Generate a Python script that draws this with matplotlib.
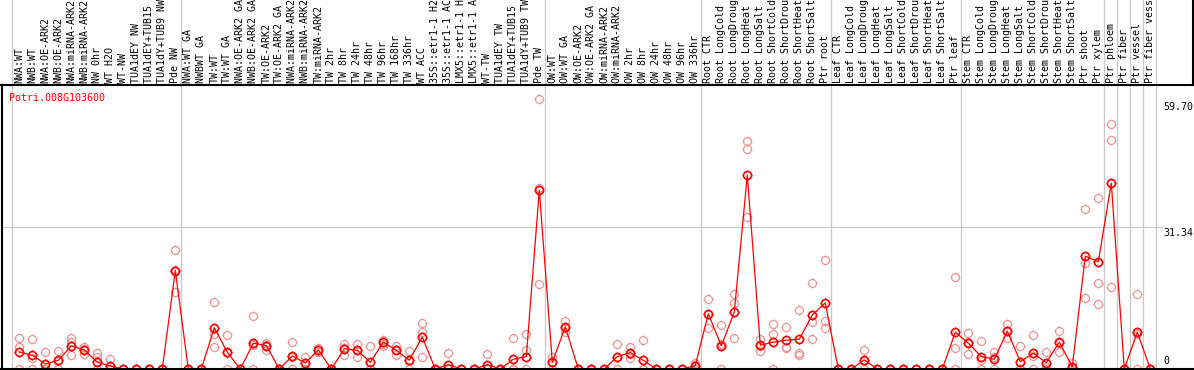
import numpy as np
import matplotlib
matplotlib.use("Agg")
import matplotlib.pyplot as plt
import matplotlib.transforms as mtransforms
from matplotlib.lines import Line2D
from matplotlib.path import Path

# ==========================================
# data
# ==========================================
gene_id = "Potri.008G103600"

sample_labels = [
    "NWA:WT", "NWB:WT", "NWA:OE-ARK2", "NWB:OE-ARK2", "NWA:miRNA-ARK2", "NWB:miRNA-ARK2",
    "NW 0hr", "WT H2O", "WT-NW", "TUA1dEY NW", "TUA1dEY+TUB15 NW", "TUA1dY+TUB9 NW", "Pde NW",
    "NWA:WT GA", "NWBWT GA", "TW:WT", "TW:WT GA", "NWA:OE-ARK2 GA", "NWB:OE-ARK2 GA",
    "TW:OE-ARK2", "TW:OE-ARK2 GA", "NWA:miRNA-ARK2 GA", "NWB:miRNA-ARK2 GA", "TW:miRNA-ARK2",
    "TW 2hr", "TW 8hr", "TW 24hr", "TW 48hr", "TW 96hr", "TW 168hr", "TW 336hr", "WT ACC",
    "35S::etr1-1 H2O", "35S::etr1-1 ACC", "LMX5::etr1-1 H2O", "LMX5::etr1-1 ACC", "WT-TW",
    "TUA1dEY TW", "TUA1dEY+TUB15 TW", "TUA1dY+TUB9 TW", "Pde TW",
    "OW:WT", "OW:WT GA", "OW:OE-ARK2", "OW:OE-ARK2 GA", "OW:miRNA-ARK2", "OW:miRNA-ARK2 GA",
    "OW 2hr", "OW 8hr", "OW 24hr", "OW 48hr", "OW 96hr", "OW 336hr",
    "Root CTR", "Root LongCold", "Root LongDrought", "Root LongHeat", "Root LongSalt",
    "Root ShortCold", "Root ShortDrought", "Root ShortHeat", "Root ShortSalt", "Ptr root",
    "Leaf CTR", "Leaf LongCold", "Leaf LongDrought", "Leaf LongHeat", "Leaf LongSalt",
    "Leaf ShortCold", "Leaf ShortDrought", "Leaf ShortHeat", "Leaf ShortSalt", "Ptr leaf",
    "Stem CTR", "Stem LongCold", "Stem LongDrought", "Stem LongHeat", "Stem LongSalt",
    "Stem ShortCold", "Stem ShortDrought", "Stem ShortHeat", "Stem ShortSalt", "Ptr shoot",
    "Ptr xylem", "Ptr phloem", "Ptr fiber", "Ptr vessel", "Ptr fiber vessel",
]

mean_values = [
    3.70, 3.03, 1.11, 1.92, 5.10, 4.21, 1.48, 0.67, 0, 0, 0, 0, 21.73,
    0, 0, 9.09, 3.70, 0, 5.69, 5.17, 0, 2.88, 1.33, 4.21, 0, 4.43, 4.14, 1.48, 5.92,
    4.14, 1.92, 7.03, 0, 0.96, 0, 0, 0.96, 0, 2.15, 2.73, 39.48,
    1.48, 9.31, 0, 0, 0, 2.73, 3.62, 1.92, 0, 0, 0, 0.74,
    12.20, 5.10, 12.57, 42.80, 5.25, 5.92, 6.36, 6.58, 11.90, 14.57,
    0, 0, 2.00, 0, 0, 0, 0, 0, 0, 8.14,
    5.69, 2.73, 2.15, 8.36, 1.62, 3.47, 1.40, 5.92, 0.52, 24.90, 23.66,
    41.03, 0, 8.14, 0,
]

rep1 = [
    6.80, 6.58, 3.70, 3.92, 6.80, 4.95, 3.47, 2.15, 0, 0, 0, 0, 26.30,
    0, 0, 14.80, 7.54, 0, 11.69, 5.84, 0, 5.92, 2.73, 4.58, 0, 5.54, 5.54, 5.10, 6.50,
    5.17, 4.06, 10.14, 0, 3.47, 0, 0, 3.33, 0, 6.88, 7.69, 59.70,
    2.73, 10.65, 0, 0, 0, 5.47, 4.95, 6.43, 0, 0, 0, 1.40,
    15.46, 9.69, 16.57, 50.30, 6.58, 9.91, 9.25, 13.08, 19.00, 24.10,
    0, 0, 4.21, 0, 0, 0, 0, 0, 0, 20.30,
    7.92, 6.21, 3.77, 9.98, 5.17, 7.47, 3.70, 8.36, 1.40, 35.26, 37.70,
    54.10, 0, 16.63, 0,
]

rep2 = [
    4.88, 2.50, 0, 1.85, 6.06, 4.40, 2.73, 0, 0, 0, 0, 0, 21.90,
    0, 0, 7.76, 3.60, 0, 5.40, 5.40, 0, 2.70, 1.30, 4.20, 0, 4.70, 4.20, 0, 5.54,
    4.20, 1.70, 8.14, 0, 0, 0, 0, 0, 0, 0, 4.20, 39.90,
    1.50, 9.10, 0, 0, 0, 2.70, 3.40, 0, 0, 0, 0, 0.80,
    12.10, 5.60, 14.57, 48.60, 5.00, 7.69, 4.95, 3.62, 10.36, 10.50,
    0, 0, 1.80, 0, 0, 0, 0, 0, 0, 4.58,
    5.90, 2.00, 2.70, 8.30, 0, 2.90, 0.50, 5.70, 0, 23.44, 19.07,
    50.57, 0, 7.80, 0,
]

rep3 = [
    0, 0, 0, 0, 3.10, 3.25, 0, 0, 0, 0, 0, 0, 17.00,
    0, 0, 4.81, 0, 0, 0, 4.21, 0, 0, 0, 3.84, 0, 3.03, 2.73, 0, 5.17,
    3.03, 0, 2.59, 0, 0, 0, 0, 0, 0, 0, 0, 18.85,
    0, 8.14, 0, 0, 0, 0, 2.51, 0, 0, 0, 0, 0,
    9.03, 0, 6.80, 33.50, 4.06, 0, 4.58, 3.03, 6.58, 9.03,
    0, 0, 0, 0, 0, 0, 0, 0, 0, 0,
    3.25, 0, 0, 6.80, 0, 0, 0, 3.70, 0, 15.68, 14.35,
    18.10, 0, 0, 0,
]

# last sample of every group (grey separators are drawn just after them)
group_ends = [-1, 12, 40, 52, 62, 72, 83, 84, 85, 86, 87]

y_max = 62.68
y_tick_values = [59.70, 31.34, 0]

# ==========================================
# layout in pixels
# ==========================================
W, H = 1194, 370
X0_PX, STEP_PX = 19.3, 13.0
HEADER_PX = 85
xlim = (-X0_PX / STEP_PX, (W - X0_PX) / STEP_PX)

LINE_RED = '#FF0000'
REP_RED = '#EC9494'
GRID = '#C8C8C8'
FONT = 'DejaVu Sans Mono'
FS = 7.2

# round ring with four short ticks sticking out
TICK = 1.22
tick_verts = [(0, 1), (0, TICK), (0, -1), (0, -TICK), (1, 0), (TICK, 0), (-1, 0), (-TICK, 0)]
tick_codes = [Path.MOVETO, Path.LINETO] * 4
ring_marker = Path.make_compound_path(Path.unit_circle(), Path(tick_verts, tick_codes))
MS = 7.0

fig = plt.figure(figsize=(W / 100, H / 100), dpi=100)
fig.patch.set_facecolor('white')

ax = fig.add_axes([0, 1 / H, 1, (H - HEADER_PX - 1) / H])
ax.set_xlim(xlim)
ax.set_ylim(0, y_max)
ax.axis('off')

hax = fig.add_axes([0, (H - HEADER_PX) / H, 1, HEADER_PX / H])
hax.set_xlim(xlim)
hax.set_ylim(0, 1)
hax.axis('off')

# grey separators through header and plot
for g in group_ends:
    ax.axvline(g + 0.42, ymin=-0.01, ymax=1, color=GRID, lw=0.9, zorder=0, clip_on=False)
    hax.axvline(g + 0.42, color=GRID, lw=0.9, zorder=0)

# middle grid line
ax.axhline(y_tick_values[1], xmin=2 / W, xmax=1162 / W, color=GRID, lw=0.9, zorder=0)

# replicates
x = np.arange(len(sample_labels))
for reps in (rep1, rep2, rep3):
    ax.plot(x, reps, linestyle='none', marker=ring_marker, markersize=MS,
            markerfacecolor='none', markeredgecolor=REP_RED, markeredgewidth=0.9,
            clip_on=False, zorder=2)

# mean profile
ax.plot(x, mean_values, color=LINE_RED, lw=0.9, marker=ring_marker, markersize=MS,
        markerfacecolor='none', markeredgecolor=LINE_RED, markeredgewidth=1.2,
        clip_on=False, zorder=3)

# sample names (long ones run off the top, as in the original)
for i, lab in enumerate(sample_labels):
    hax.text(i, 2 / HEADER_PX, lab, rotation=90, ha='center', va='bottom',
             fontsize=FS, family=FONT, color='black')

# y labels on the right
trans = mtransforms.blended_transform_factory(ax.transAxes, ax.transData)
offsets = [(-3, 'top'), (-1, 'top'), (3, 'bottom')]
for val, (dy, va) in zip(y_tick_values, offsets):
    txt = f"{val:.2f}" if val else "0"
    ax.annotate(txt, xy=(1163 / W, val), xycoords=trans, xytext=(0, dy),
                textcoords='offset pixels', ha='left', va=va,
                fontsize=FS, family=FONT, color='black', annotation_clip=False)

fig.text(9 / W, 1 - 97.7 / H, gene_id, color=LINE_RED, fontsize=FS, family=FONT,
         ha='left', va='center')

# black frame bits
fig.add_artist(Line2D([0, 1], [1 - HEADER_PX / H] * 2, color='black', lw=1.5,
                      transform=fig.transFigure))
fig.add_artist(Line2D([0, 1], [1 / H, 1 / H], color='black', lw=1.5,
                      transform=fig.transFigure))
fig.add_artist(Line2D([2 / W, 2 / W], [0, 1 - HEADER_PX / H], color='black', lw=1.5,
                      transform=fig.transFigure))
fig.add_artist(Line2D([1193 / W, 1193 / W], [1 - HEADER_PX / H, 1], color='black', lw=1.5,
                      transform=fig.transFigure))

fig.savefig('out.png', dpi=100, facecolor='white')
